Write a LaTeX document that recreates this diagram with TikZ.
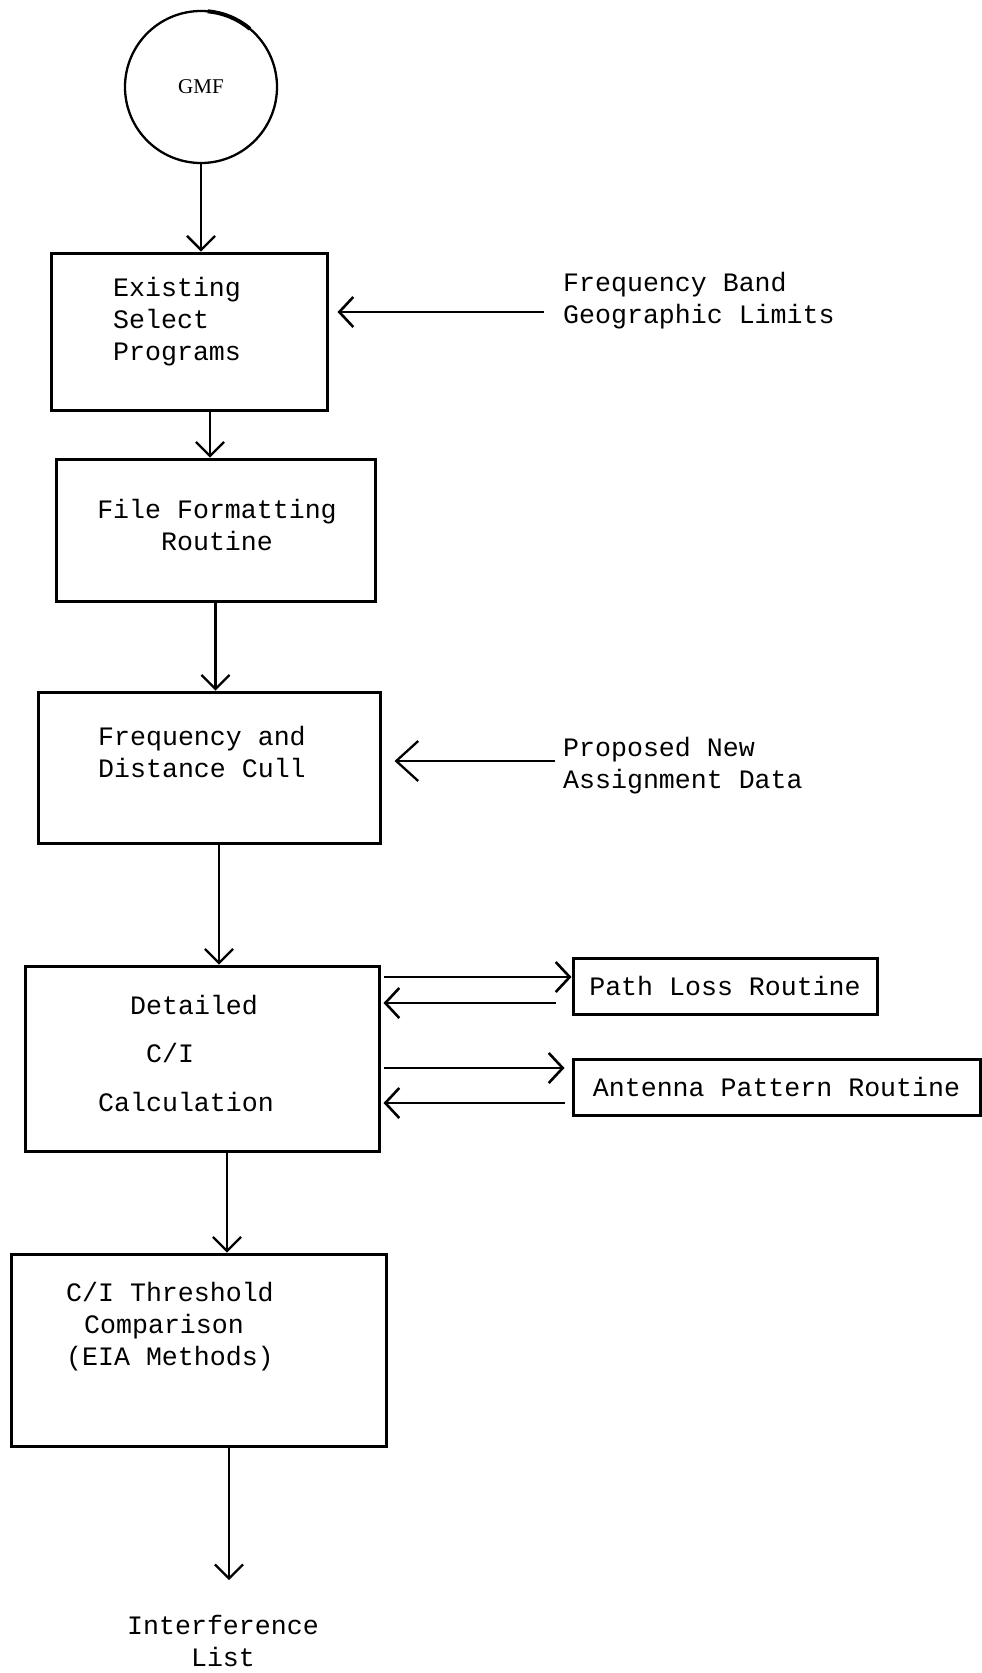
\documentclass[tikz,border=0pt]{standalone}
\usepackage{fontspec}
\setmainfont{Liberation Mono}
\newfontfamily\gmffont{Liberation Serif}
\usetikzlibrary{arrows.meta}
\begin{document}
\begin{tikzpicture}[x=1pt,y=-1pt,
  every node/.style={font=\fontsize{26.6}{32}\selectfont},
  box/.style={draw,line width=3pt,rectangle,inner sep=0pt},
  lbl/.style={inner sep=0pt,anchor=west,align=left},
  arr/.style={line width=2.3pt,-{Straight Barb[length=14pt,width=28pt,line width=2.3pt]}},
  sarr/.style={line width=2.8pt,-{Straight Barb[length=14pt,width=30pt,line width=2.6pt]}}]
\useasboundingbox (0,0) rectangle (982,1673);

% master file
\node[draw,circle,line width=2.3pt,minimum size=152pt,inner sep=0pt] (gmf) at (201,87)
  {\gmffont\fontsize{21}{24}\selectfont GMF};
\draw[line width=4pt] (gmf.center) ++(50:76pt) arc (50:85:76pt);

% main chain of processing boxes
\node[box,minimum width=276pt,minimum height=157pt] (b1) at (189,331.5) {};
\node[box,minimum width=319pt,minimum height=142pt] (b2) at (215.5,530) {};
\node[box,minimum width=342pt,minimum height=151pt] (b3) at (209,767.5) {};
\node[box,minimum width=354pt,minimum height=185pt] (b4) at (202,1058.5) {};
\node[box,minimum width=375pt,minimum height=192pt] (b5) at (198.5,1350) {};

% side routines
\node[box,minimum width=304pt,minimum height=56pt] (pl) at (725,986) {Path Loss Routine};
\node[box,minimum width=407pt,minimum height=56pt] (ap) at (776.5,1087) {Antenna Pattern Routine};

% box texts
\node[lbl] (t1) at (113,322) {Existing\\Select\\Programs};
\node[inner sep=0pt,align=center] (t2) at (217,525) {File Formatting\\Routine};
\node[lbl] (t3) at (98,752) {Frequency and\\Distance Cull};
\node[lbl] (t4a) at (130,1005) {Detailed};
\node[lbl] (t4b) at (146,1053) {C/I};
\node[lbl] (t4c) at (98,1102) {Calculation};
\node[lbl] (t5) at (66,1327) {C/I Threshold\\\hspace{18pt}Comparison\\(EIA Methods)};

% external inputs and output
\node[lbl] (fb) at (563,301) {Frequency Band\\Geographic Limits};
\node[lbl] (pn) at (563,766) {Proposed New\\Assignment Data};
\node[inner sep=0pt,align=center] (il) at (223,1641) {Interference\\List};

% vertical flow
\draw[arr] (gmf.south) -- (gmf.south |- b1.north);
\draw[arr] ([xshift=21pt]b1.south) -- ([xshift=21pt]b1.south |- b2.north);
\draw[arr] (b2.south) -- (b2.south |- b3.north);
\draw[arr] ([xshift=10pt]b3.south) -- ([xshift=10pt]b3.south |- b4.north);
\draw[arr] ([xshift=25pt]b4.south) -- ([xshift=25pt]b4.south |- b5.north);
\coordinate (out) at (229,1580);
\draw[arr] ([xshift=30.5pt]b5.south) -- (out);

% inputs from the right
\coordinate (fbin) at (544,312);
\draw[sarr,shorten >=9pt] (fbin) -- (b1.east |- fbin);
\coordinate (pnin) at (555,761);
\draw[arr,-{Straight Barb[length=22pt,width=40pt,line width=2.3pt]},shorten >=13pt] (pnin) -- (b3.east |- pnin);

% exchanges with the side routines
\coordinate (p1) at ([yshift=9pt]pl.west);
\coordinate (p2) at ([yshift=-17pt]pl.west);
\coordinate (a1) at ([yshift=19pt]ap.west);
\coordinate (a2) at ([yshift=-16pt]ap.west);
\draw[sarr,shorten <=3pt] (p1 -| b4.east) -- (p1);
\draw[sarr,shorten >=3pt] ([xshift=-16pt]p2) -- (p2 -| b4.east);
\draw[sarr,shorten <=3pt,shorten >=7pt] (a1 -| b4.east) -- (a1);
\draw[sarr,shorten >=3pt] ([xshift=-7pt]a2) -- (a2 -| b4.east);
\end{tikzpicture}
\end{document}
